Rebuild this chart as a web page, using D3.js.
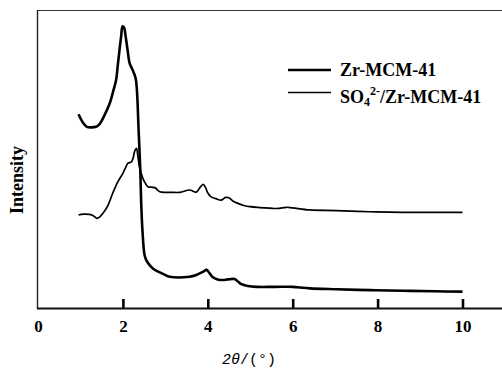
<!DOCTYPE html>
<html>
<head>
<meta charset="utf-8">
<script src="https://cdn.jsdelivr.net/npm/d3@7"></script>
<style>
	body { margin: 0; background: #fff; }
	svg { display: block; }
	.tick-label { font-family: "Liberation Serif", serif; font-weight: bold; font-size: 17px; }
	.legend-text { font-family: "Liberation Serif", serif; font-weight: bold; font-size: 18px; }
</style>
</head>
<body>
<div id="chart"></div>
<script>

// 2theta positions and intensities
var zrX = [0.955, 1.05, 1.15, 1.26, 1.37, 1.45, 1.57, 1.69, 1.78, 1.84, 1.88, 1.92, 1.96, 1.99, 2.03, 2.06,
	2.11, 2.16, 2.23, 2.30, 2.33, 2.37, 2.41, 2.43, 2.46, 2.51, 2.56, 2.63, 2.72, 2.83, 2.98, 3.10, 3.57,
	3.73, 3.88, 3.97, 4.04, 4.12, 4.23, 4.36, 4.47, 4.63, 4.71, 4.79, 4.94, 5.15, 5.58, 6.01, 6.17, 6.40,
	7.03, 7.82, 8.60, 9.35, 10.0];
var zrY = [65.0, 62.4, 60.8, 60.6, 60.8, 61.7, 64.8, 68.7, 73.2, 76.5, 81.5, 86.6, 91.3, 94.5, 94.0, 91.6,
	86.6, 82.1, 79.9, 77.1, 73.2, 59.7, 46.3, 35.7, 26.2, 17.8, 15.8, 14.4, 13.1, 12.2, 11.2, 10.5, 10.5,
	11.1, 12.1, 12.8, 11.7, 10.3, 9.6, 9.4, 9.6, 9.7, 8.9, 8.0, 7.4, 7.1, 7.1, 7.1, 6.9, 6.6,
	6.3, 6.0, 5.8, 5.6, 5.5];

var soX = [0.955, 1.07, 1.21, 1.31, 1.39, 1.45, 1.53, 1.64, 1.76, 1.88, 2.00, 2.06, 2.12, 2.20, 2.24, 2.28,
	2.32, 2.35, 2.39, 2.47, 2.54, 2.59, 2.75, 2.87, 3.01, 3.15, 3.34, 3.57, 3.73, 3.81, 3.89, 3.95, 4.00,
	4.08, 4.19, 4.32, 4.42, 4.50, 4.59, 4.71, 4.85, 4.99, 5.22, 5.46, 5.65, 5.85, 6.00, 6.40, 7.03, 7.82,
	8.60, 9.35, 10.0];
var soY = [31.2, 31.5, 31.4, 30.9, 30.1, 30.5, 31.8, 34.2, 38.5, 42.3, 45.2, 47.0, 48.6, 49.0, 50.3, 52.7,
	53.6, 51.3, 47.4, 43.5, 41.6, 40.7, 40.4, 39.0, 38.8, 38.8, 38.8, 39.6, 38.9, 40.3, 41.5, 40.3, 38.6,
	37.3, 36.7, 36.2, 37.1, 37.0, 35.9, 35.1, 34.4, 34.0, 33.7, 33.5, 33.4, 33.8, 33.6, 32.9, 32.7, 32.3,
	32.1, 32.1, 32.1];

var xTicks = [0, 2, 4, 6, 8, 10];
var seriesNames = ['Zr-MCM-41', 'SO4/Zr-MCM-41'];

var width = 502, height = 369;

var svg = d3.select('#chart').append('svg')
	.attr('width', width)
	.attr('height', height);

// scales: 0..10 over the ticks, axis line runs on to the edge
var xScale = d3.scaleLinear().domain([0, 10]).range([38, 462.5]);
var yScale = d3.scaleLinear().domain([0, 100]).range([308, 10]);

// frame: top and left lines
svg.append('line')
	.attr('x1', 37.5).attr('x2', width)
	.attr('y1', 10.5).attr('y2', 10.5)
	.attr('stroke', '#333').attr('stroke-width', 1.2);
svg.append('line')
	.attr('x1', 37.5).attr('x2', 37.5)
	.attr('y1', 10).attr('y2', 309)
	.attr('stroke', '#222').attr('stroke-width', 1.4);

// x axis with inward ticks
var xAxis = d3.axisBottom(xScale)
	.tickValues(xTicks)
	.tickSize(0)
	.tickPadding(12)
	.tickFormat(d3.format('d'));

var gx = svg.append('g')
	.attr('transform', 'translate(0,308)')
	.call(xAxis);
gx.select('.domain').remove();
gx.selectAll('text')
	.attr('class', 'tick-label')
	.attr('fill', '#000');
gx.selectAll('.tick').filter(function(d) { return d > 0; })
	.append('line')
	.attr('y1', 0).attr('y2', -9)
	.attr('stroke', '#000').attr('stroke-width', 2.6);

svg.append('line')
	.attr('x1', 37).attr('x2', width)
	.attr('y1', 308.5).attr('y2', 308.5)
	.attr('stroke', '#111').attr('stroke-width', 1.8);

// the two curves
var line = d3.line()
	.x(function(d) { return xScale(d[0]); })
	.y(function(d) { return yScale(d[1]); })
	.curve(d3.curveCatmullRom);

svg.append('path')
	.datum(d3.zip(zrX, zrY))
	.attr('d', line)
	.attr('fill', 'none')
	.attr('stroke', '#000')
	.attr('stroke-width', 2.6)
	.attr('stroke-linejoin', 'round');

svg.append('path')
	.datum(d3.zip(soX, soY))
	.attr('d', line)
	.attr('fill', 'none')
	.attr('stroke', '#000')
	.attr('stroke-width', 1.7)
	.attr('stroke-linejoin', 'round');

// legend
var legend = svg.append('g');
legend.append('line')
	.attr('x1', 288).attr('x2', 331).attr('y1', 70).attr('y2', 70)
	.attr('stroke', '#000').attr('stroke-width', 2.6);
legend.append('text')
	.attr('class', 'legend-text')
	.attr('x', 340).attr('y', 76)
	.text(seriesNames[0]);

legend.append('line')
	.attr('x1', 288).attr('x2', 331).attr('y1', 92.5).attr('y2', 92.5)
	.attr('stroke', '#000').attr('stroke-width', 1.6);
var t2 = legend.append('text')
	.attr('class', 'legend-text')
	.attr('x', 340).attr('y', 102.5);
t2.append('tspan').text('SO');
t2.append('tspan').attr('dy', 3).attr('font-size', '12px').text('4');
t2.append('tspan').attr('dy', -11).attr('font-size', '12px').text('2-');
t2.append('tspan').attr('dy', 8).text('/Zr-MCM-41');

// axis titles
svg.append('text')
	.attr('transform', 'translate(23,180) rotate(-90)')
	.attr('text-anchor', 'middle')
	.attr('font-family', '"Liberation Serif", serif')
	.attr('font-weight', 'bold')
	.attr('font-size', '18px')
	.text('Intensity');

var xt = svg.append('text')
	.attr('x', 249).attr('y', 364)
	.attr('text-anchor', 'middle')
	.attr('font-family', '"Liberation Mono", monospace')
	.attr('font-size', '15px');
xt.append('tspan').attr('font-style', 'italic').text('2θ');
xt.append('tspan').text('/(°)');

</script>
</body>
</html>
